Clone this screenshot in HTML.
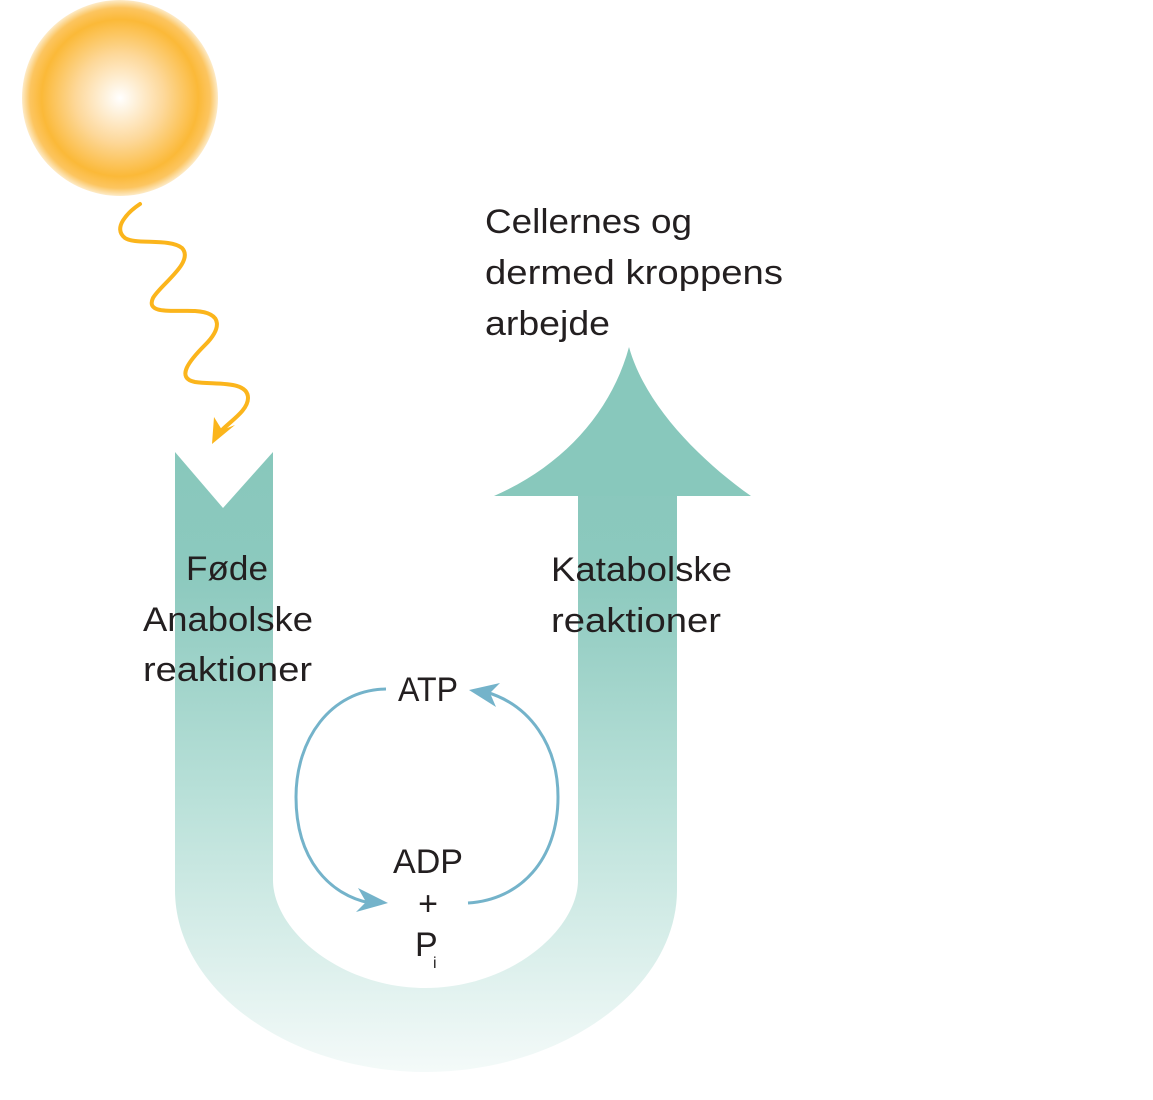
<!DOCTYPE html>
<html><head><meta charset="utf-8"><style>html,body{margin:0;padding:0;background:#fff}svg{display:block}</style></head>
<body>
<svg width="1153" height="1100" viewBox="0 0 1153 1100" xmlns="http://www.w3.org/2000/svg" font-family="Liberation Sans, sans-serif" font-size="34" fill="#231f20">
<defs>
<radialGradient id="sun" cx="120" cy="98" r="98" gradientUnits="userSpaceOnUse">
<stop offset="0" stop-color="#ffffff"/>
<stop offset="0.45" stop-color="#fdd89a"/>
<stop offset="0.8" stop-color="#fbb938"/>
<stop offset="0.92" stop-color="#fcc560"/>
<stop offset="1" stop-color="#fdebc8"/>
</radialGradient>
<linearGradient id="u" x1="0" y1="452" x2="0" y2="1072" gradientUnits="userSpaceOnUse">
<stop offset="0" stop-color="#88c8bc"/>
<stop offset="0.2" stop-color="#8cc9be"/>
<stop offset="0.55" stop-color="#b8e0d8"/>
<stop offset="1" stop-color="#f4faf9"/>
</linearGradient>
</defs>
<circle cx="120" cy="98" r="98" fill="url(#sun)"/>
<path d="M140,204 C128,212 112,228 125,238 C135,245 170,238 182,248 C195,262 160,285 153,298 C145,315 175,310 195,311 C225,313 220,330 205,345 C190,360 175,378 195,382 C215,385 248,380 248,398 C248,410 232,420 222,430" fill="none" stroke="#fbb51c" stroke-width="4" stroke-linecap="round"/>
<polygon points="212,444 214,417 222,430 235,425" fill="#fbb51c"/>
<path d="M175,452 L223,508 L273,452 L273,880 C273,930 340,988 426,988 C510,988 578,930 578,880 L578,496 L677,496 L677,890 C677,990 560,1072 426,1072 C290,1072 175,990 175,890 Z" fill="url(#u)"/>
<path d="M494,496 C565,465 612,410 629,347 C645,405 700,460 751,496 Z" fill="#88c8bc"/>
<g fill="none" stroke="#74b3ca" stroke-width="3">
<path d="M386,689 C330,690 296,740 296,797 C296,860 330,895 370,903"/>
<path d="M468,903 C520,900 558,860 558,797 C558,745 530,705 486,692"/>
</g>
<polygon points="388,903 356,912 366,902 358,888" fill="#74b3ca"/>
<polygon points="469,690 500,683 490,693 496,707" fill="#74b3ca"/>
<g lengthAdjust="spacingAndGlyphs">
<text x="485" y="233" textLength="207" lengthAdjust="spacingAndGlyphs">Cellernes og</text>
<text x="485" y="284" textLength="298" lengthAdjust="spacingAndGlyphs">dermed kroppens</text>
<text x="485" y="335" textLength="125" lengthAdjust="spacingAndGlyphs">arbejde</text>
<text x="186" y="580" textLength="82" lengthAdjust="spacingAndGlyphs">Føde</text>
<text x="143" y="631" textLength="170" lengthAdjust="spacingAndGlyphs">Anabolske</text>
<text x="143" y="681" textLength="169" lengthAdjust="spacingAndGlyphs">reaktioner</text>
<text x="551" y="581" textLength="181" lengthAdjust="spacingAndGlyphs">Katabolske</text>
<text x="551" y="632" textLength="170" lengthAdjust="spacingAndGlyphs">reaktioner</text>
<text x="398" y="701" textLength="60" lengthAdjust="spacingAndGlyphs">ATP</text>
<text x="393" y="873" textLength="70" lengthAdjust="spacingAndGlyphs">ADP</text>
</g>
<text x="428" y="915" text-anchor="middle">+</text>
<text x="415" y="956">P</text>
<text x="433" y="968" font-size="16">i</text>
</svg>
</body></html>
